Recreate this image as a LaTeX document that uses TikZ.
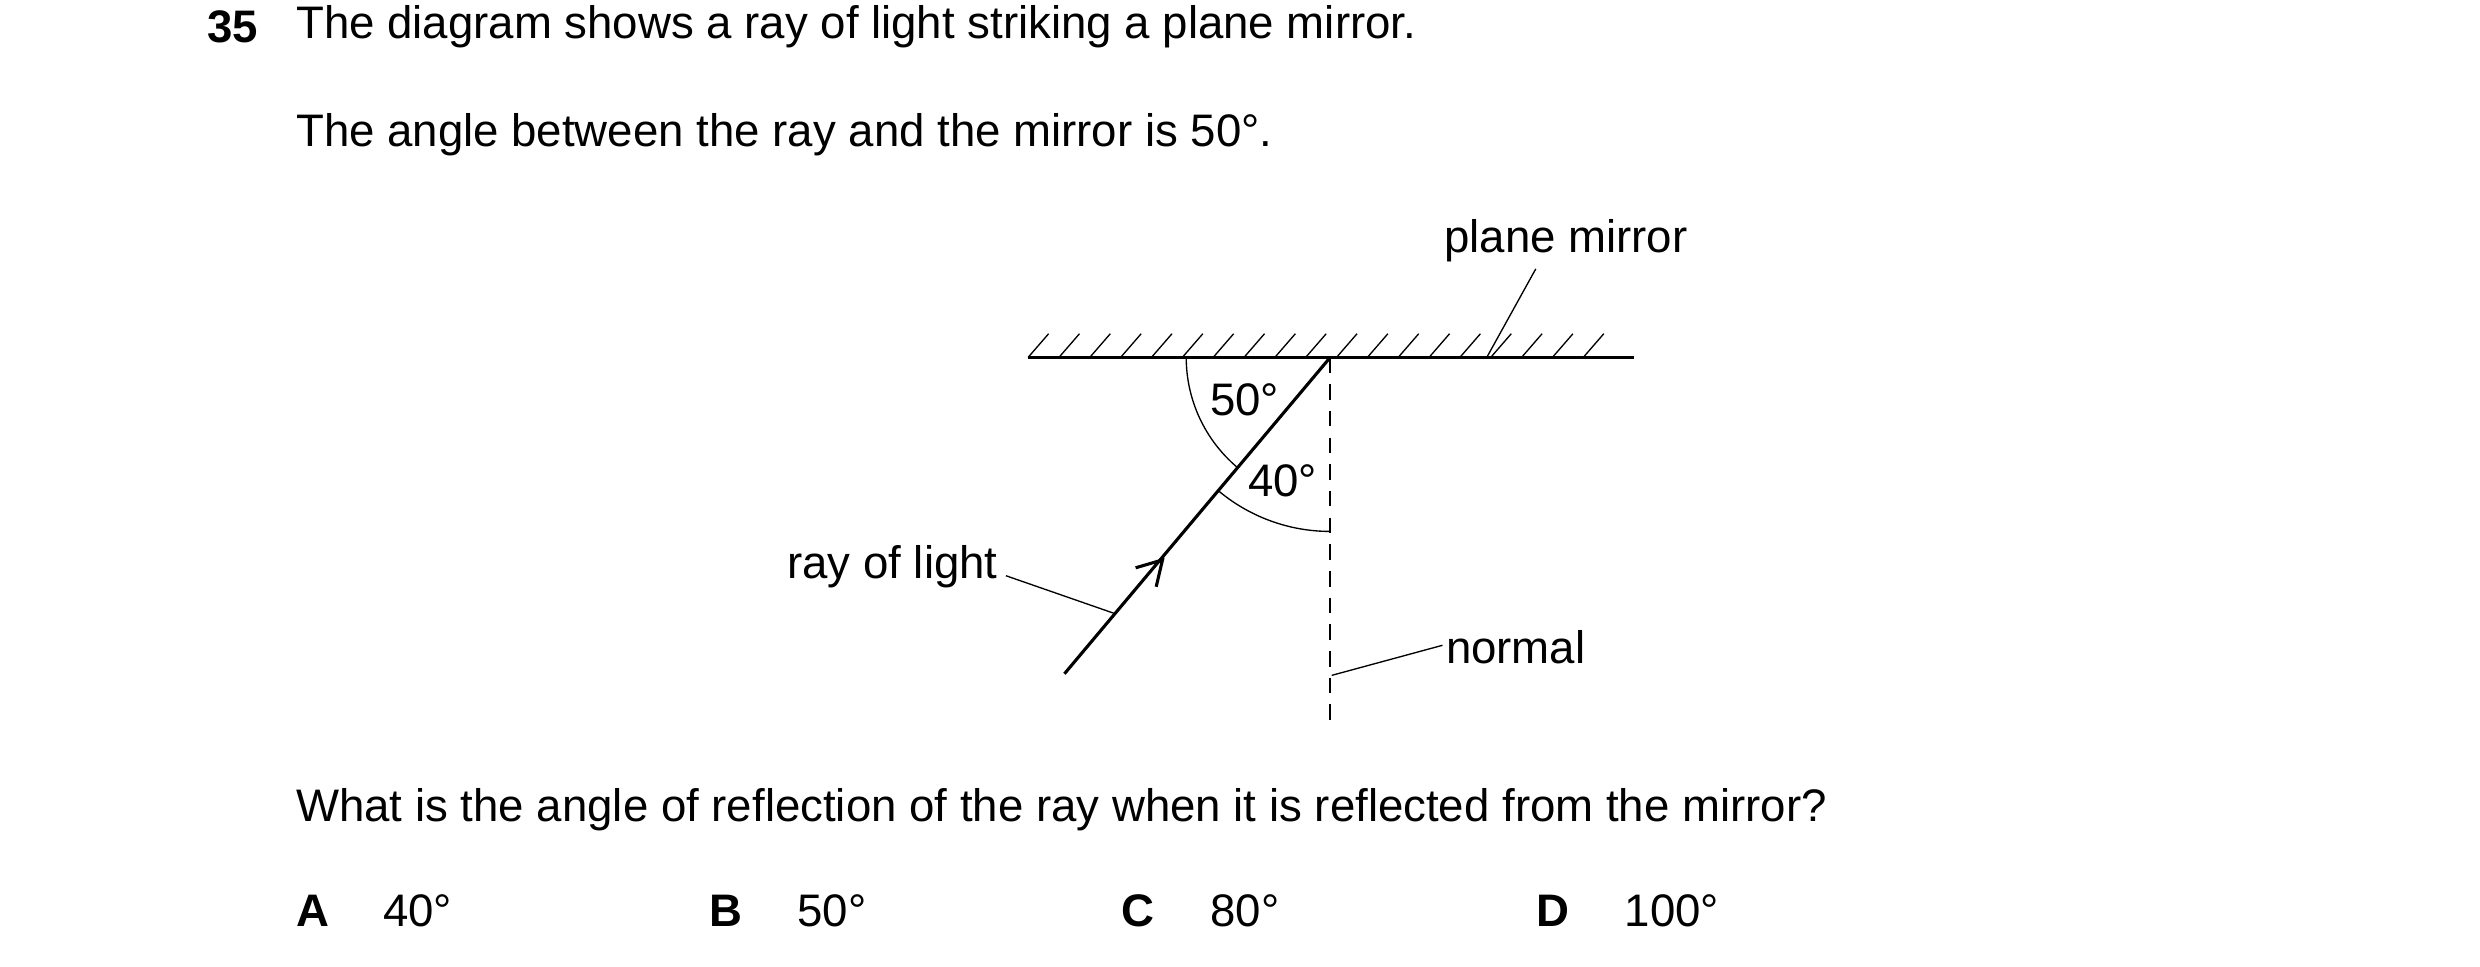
\documentclass[tikz,border=0pt]{standalone}
\usepackage{fontspec}
\setmainfont{Liberation Sans}
\usetikzlibrary{arrows.meta}
\tikzset{
    txt/.style = {inner sep=0pt, font=\fontsize{20.5}{22}\selectfont},
    lbl/.style = {txt, anchor=center},
    lead/.style = {line width=0.6pt},
    ray/.style = {line width=1.4pt},
    arcs/.style = {line width=0.6pt}
}
\begin{document}
\begin{tikzpicture}[x=0.025cm, y=-0.025cm]
    \useasboundingbox (0,0) rectangle (1568,611);

    % question text
    \node [txt, anchor=west, font=\fontsize{20.5}{22}\selectfont\bfseries] (num) at (131,17) {35};
    \node [txt, anchor=west] (l1) at (187,17) {The diagram shows a ray of light striking a plane mirror.};
    \node [txt, anchor=west] (l2) at (187,85) {The angle between the ray and the mirror is 50°.};

    % mirror
    \coordinate (ml) at (650,226);
    \coordinate (mr) at (1033,226);
    \coordinate (hit) at (841,226);
    \draw [ray] (ml) -- (mr);
    \foreach \x in {650,669.5,...,1020}
        \draw [lead] (\x,226) -- ++(13,-15);

    % normal
    \coordinate (nb) at (841,458);
    \draw [lead, dash pattern=on 7pt off 5pt] (hit) -- (nb);

    % ray
    \coordinate (start) at (673,426);
    \draw [ray] (start) -- (hit);
    \draw [ray] (718,359) -- (735,354) -- (731,371);

    % angles
    \draw [arcs] (hit) ++(180:91) arc (180:130.3:91);
    \draw [arcs] (hit) ++(130.3:110) arc (130.3:90:110);
    \node [lbl] (a50) at (787,253) {50°};
    \node [lbl] (a40) at (811,304) {40°};

    % labels
    \node [lbl] (pm) at (990,152) {plane mirror};
    \draw [lead] (971,170) -- (940,226);
    \node [txt, anchor=east] (rl) at (631,358) {ray of light};
    \draw [lead] (636,364) -- (705,388);
    \node [txt, anchor=west] (nm) at (914,409) {normal};
    \draw [lead] (912,408) -- (842,427);

    % question and options
    \node [txt, anchor=west] (q) at (187,512) {What is the angle of reflection of the ray when it is reflected from the mirror?};
    \foreach \l/\v/\xa/\xb in {A/40/187/242, B/50/448/504, C/80/709/765, D/100/971/1027} {
        \node [txt, anchor=west, font=\fontsize{20.5}{22}\selectfont\bfseries] (opt\l) at (\xa,576) {\l};
        \node [txt, anchor=west] (val\l) at (\xb,576) {\v°};
    }
\end{tikzpicture}
\end{document}
